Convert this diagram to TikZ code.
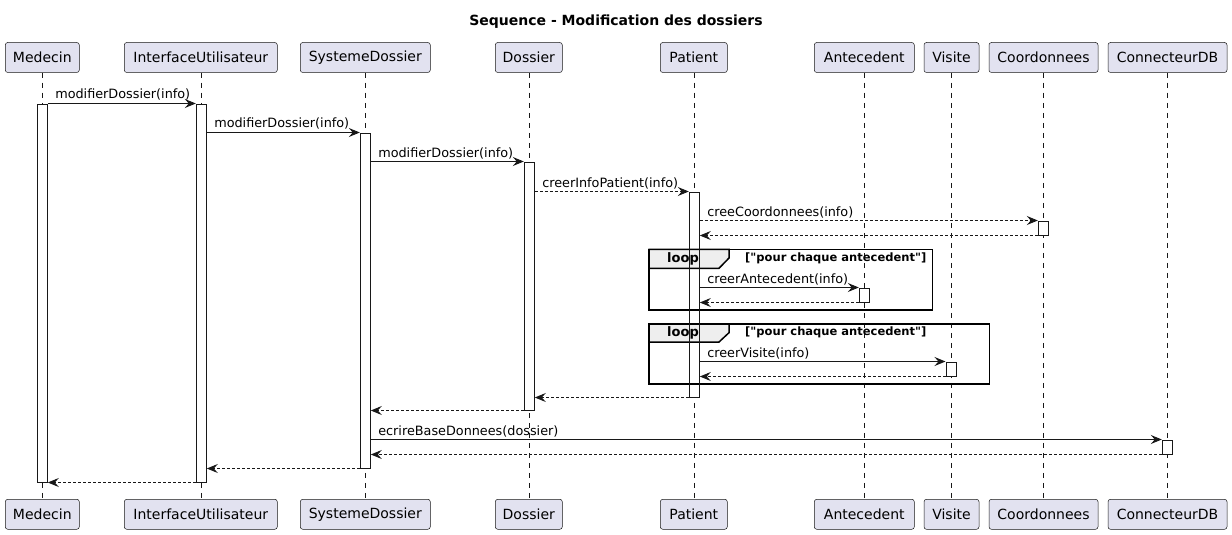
\documentclass[tikz,border=0pt]{standalone}
\usepackage{fontspec}
\setmainfont{DejaVu Sans}[Ligatures=TeXOff]
\usetikzlibrary{arrows.meta}
\definecolor{ink}{HTML}{181818}
\definecolor{partfill}{HTML}{E2E2F0}
\definecolor{tabfill}{HTML}{EEEEEE}
\tikzset{
  part/.style={draw=ink, fill=partfill, line width=0.5pt, rounded corners=2.5pt, minimum height=30pt, inner sep=0pt, font=\fontsize{14}{16}\selectfont},
  lifeline/.style={draw=ink, line width=0.5pt, dash pattern=on 5pt off 5pt},
  act/.style={draw=ink, fill=white, line width=1pt, minimum width=10pt, inner sep=0pt},
  actline/.style={draw=ink, line width=1pt, minimum width=10pt, inner sep=0pt},
  msg/.style={draw=ink, line width=1pt, -{Stealth[length=11pt,width=9pt,inset=4pt]}},
  ret/.style={msg, dash pattern=on 3pt off 2pt},
  lbl/.style={font=\fontsize{12.8}{15}\selectfont, anchor=base west, inner sep=0pt, xshift=7pt, yshift=4.5pt},
  frame/.style={draw=black, line width=1.5pt},
  tab/.style={draw=black, fill=tabfill, line width=1.5pt},
  looplbl/.style={font=\bfseries\fontsize{13}{15}\selectfont, inner sep=0pt},
  guard/.style={font=\bfseries\fontsize{11.5}{13}\selectfont, inner sep=0pt, anchor=west},
}
\begin{document}
\begin{tikzpicture}[x=1pt,y=-1pt]
\useasboundingbox (0,0) rectangle (1232,535);
\node[font=\bfseries\fontsize{14}{16}\selectfont] (title) at (616,22) {Sequence - Modification des dossiers};
% participants top
\node[part, minimum width=74pt] (tM) at (42.3,57.5) {Medecin};
\node[part, minimum width=153pt] (tI) at (200.8,57.5) {InterfaceUtilisateur};
\node[part, minimum width=130pt] (tS) at (365.3,57.5) {SystemeDossier};
\node[part, minimum width=67pt] (tD) at (528.8,57.5) {Dossier};
\node[part, minimum width=67pt] (tP) at (693.8,57.5) {Patient};
\node[part, minimum width=100pt] (tA) at (864.3,57.5) {Antecedent};
\node[part, minimum width=55pt] (tV) at (951.5,57.5) {Visite};
\node[part, minimum width=109pt] (tC) at (1043.5,57.5) {Coordonnees};
\node[part, minimum width=119pt] (tB) at (1167.5,57.5) {ConnecteurDB};
% participants bottom
\node[part, minimum width=74pt] (bM) at (42.3,514.3) {Medecin};
\node[part, minimum width=153pt] (bI) at (200.8,514.3) {InterfaceUtilisateur};
\node[part, minimum width=130pt] (bS) at (365.3,514.3) {SystemeDossier};
\node[part, minimum width=67pt] (bD) at (528.8,514.3) {Dossier};
\node[part, minimum width=67pt] (bP) at (693.8,514.3) {Patient};
\node[part, minimum width=100pt] (bA) at (864.3,514.3) {Antecedent};
\node[part, minimum width=55pt] (bV) at (951.5,514.3) {Visite};
\node[part, minimum width=109pt] (bC) at (1043.5,514.3) {Coordonnees};
\node[part, minimum width=119pt] (bB) at (1167.5,514.3) {ConnecteurDB};
% lifelines
\foreach \p in {M,I,S,D,P,A,V,C,B} {
  \draw[lifeline] (t\p.south) -- (b\p.north);
}
% activations
\node[act, minimum height=378pt] (aM) at (42.3,293) {};
\node[act, minimum height=378pt] (aI) at (201.3,293) {};
\node[act, minimum height=335pt] (aS) at (365.3,300.5) {};
\node[act, minimum height=248pt] (aD) at (529.3,286) {};
\node[act, minimum height=205pt] (aP) at (694.3,294.5) {};
\node[act, minimum height=14pt] (aC) at (1043.3,228) {};
\node[act, minimum height=14pt] (aA) at (864.3,295) {};
\node[act, minimum height=14pt] (aV) at (951,369) {};
\node[act, minimum height=14pt] (aB) at (1167.3,447) {};
% loop frames
\draw[frame] (649,249.3) rectangle (932.3,310);
\draw[tab] (649,249.3) -- (729,249.3) -- (729,258) -- (719,268.3) -- (649,268.3) -- cycle;
\node[looplbl] (loop1) at (683,258.5) {loop};
\node[guard] (guard1) at (745,258) {["pour chaque antecedent"]};
\draw[frame] (649,324) rectangle (989.3,384);
\draw[tab] (649,324) -- (729,324) -- (729,332.7) -- (719,342) -- (649,342) -- cycle;
\node[looplbl] (loop2) at (683,333) {loop};
\node[guard] (guard2) at (745,332.5) {["pour chaque antecedent"]};
% redraw patient activation border over tabs
\node[actline, minimum height=205pt] (aPb) at (694.3,294.5) {};
% messages
\draw[msg] (aM.north east) -- node[lbl, pos=0] {modifierDossier(info)} (aI.north west);
\draw[msg] (aI.east |- aS.north) -- node[lbl, pos=0] {modifierDossier(info)} (aS.north west);
\draw[msg] (aS.east |- aD.north) -- node[lbl, pos=0] {modifierDossier(info)} (aD.north west);
\draw[ret] (aD.east |- aP.north) -- node[lbl, pos=0] {creerInfoPatient(info)} (aP.north west);
\draw[ret] (aP.east |- aC.north) -- node[lbl, pos=0] {creeCoordonnees(info)} (aC.north west);
\draw[ret] (aC.south west) -- (aP.east |- aC.south);
\draw[msg] (aP.east |- aA.north) -- node[lbl, pos=0] {creerAntecedent(info)} (aA.north west);
\draw[ret] (aA.south west) -- (aP.east |- aA.south);
\draw[msg] (aP.east |- aV.north) -- node[lbl, pos=0] {creerVisite(info)} (aV.north west);
\draw[ret] (aV.south west) -- (aP.east |- aV.south);
\draw[ret] (aP.south west) -- (aD.east |- aP.south);
\draw[ret] (aD.south west) -- (aS.east |- aD.south);
\draw[msg] (aS.east |- aB.north) -- node[lbl, pos=0] {ecrireBaseDonnees(dossier)} (aB.north west);
\draw[ret] (aB.south west) -- (aS.east |- aB.south);
\draw[ret] (aS.south west) -- (aI.east |- aS.south);
\draw[ret] (aI.south west) -- (aM.east |- aI.south);
\end{tikzpicture}
\end{document}
